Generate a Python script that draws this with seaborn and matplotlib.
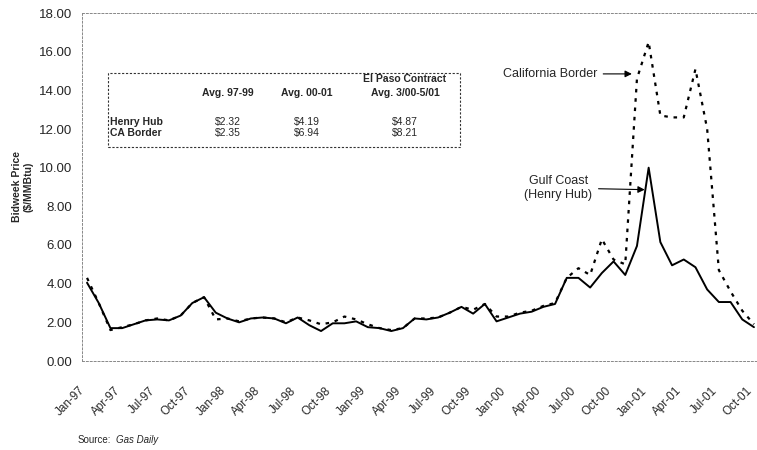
"""Bidweek gas prices: Henry Hub vs California Border, 1997-2001."""

import matplotlib.pyplot as plt
import numpy as np
import pandas as pd
import seaborn as sns
from matplotlib.patches import Rectangle
from matplotlib.transforms import ScaledTranslation

months = pd.date_range("1997-01-01", "2001-10-01", freq="MS")

henry_hub = [
    4.05, 3.0, 1.7, 1.7, 1.9, 2.1, 2.15, 2.1, 2.35, 3.0, 3.3, 2.5,
    2.2, 2.0, 2.2, 2.25, 2.2, 1.95, 2.25, 1.85, 1.55, 1.95, 1.95, 2.05,
    1.75, 1.7, 1.55, 1.7, 2.2, 2.15, 2.25, 2.5, 2.8, 2.45, 2.95, 2.05,
    2.25, 2.45, 2.55, 2.8, 2.95, 4.3, 4.3, 3.8, 4.55, 5.15, 4.45, 5.95,
    10.0, 6.15, 4.95, 5.25, 4.85, 3.7, 3.05, 3.05, 2.15, 1.75,
]
ca_border = [
    4.3, 3.0, 1.6, 1.75, 1.9, 2.1, 2.2, 2.1, 2.35, 3.0, 3.3, 2.15,
    2.2, 2.05, 2.2, 2.25, 2.2, 2.0, 2.25, 2.1, 1.9, 2.0, 2.3, 2.15,
    1.9, 1.7, 1.6, 1.7, 2.2, 2.2, 2.25, 2.5, 2.8, 2.65, 2.95, 2.3,
    2.3, 2.5, 2.6, 2.85, 3.0, 4.3, 4.8, 4.45, 6.3, 5.25, 5.0, 14.6,
    16.5, 12.7, 12.6, 12.6, 15.1, 12.0, 4.7, 3.6, 2.6, 1.9,
]

tick_labels = [d.strftime("%b-%y") for d in months[::3]]

table_cols = ["Avg. 97-99", "Avg. 00-01", "El Paso Contract\nAvg. 3/00-5/01"]
table_rows = ["Henry Hub", "CA Border"]
table_vals = [["$2.32", "$4.19", "$4.87"], ["$2.35", "$6.94", "$8.21"]]

W, H = 757, 450


def fx(px):
    return px / W


def fy(py):
    return 1 - py / H


sns.set_style("white")
plt.rcParams["font.family"] = ["Liberation Sans", "DejaVu Sans"]

df = pd.DataFrame({
    "month": np.arange(len(months)),
    "henry_hub": henry_hub,
    "ca_border": ca_border,
})

fig = plt.figure(figsize=(W / 100, H / 100), dpi=100)
ax = fig.add_axes([fx(82), fy(361), fx(757) - fx(82), fy(13) - fy(361)])

sns.lineplot(data=df, x="month", y="henry_hub", color="black", linewidth=1.4, ax=ax)
sns.lineplot(data=df, x="month", y="ca_border", color="black", linewidth=1.6,
             linestyle=(0, (1.6, 2.6)), ax=ax)

ax.set_xlim(-0.43, 57.26)
ax.set_ylim(0, 18)
ax.set_yticks(np.arange(0, 19, 2))
ax.set_yticklabels([f"{v:.2f}" for v in np.arange(0, 19, 2)], fontsize=9.5)
ax.set_xticks(df["month"][::3])
ax.set_xticklabels(tick_labels, rotation=45, ha="right", rotation_mode="anchor", fontsize=8.5)
ax.tick_params(axis="y", length=3, width=0.6, color="#888888", pad=4)
ax.tick_params(axis="x", length=0, pad=17)
ax.set_xlabel("")
ax.set_ylabel("Bidweek Price\n($/MMBtu)", fontsize=7.5, fontweight="bold", labelpad=4)

for side in ["top", "bottom", "left"]:
    ax.spines[side].set_linestyle((0, (2, 2)))
    ax.spines[side].set_color("#888888")
    ax.spines[side].set_linewidth(0.7)
ax.spines["right"].set_visible(False)

ax.annotate("California Border", xy=(46.8, 14.85), xytext=(43.6, 14.85),
            ha="right", va="center", fontsize=9,
            arrowprops=dict(arrowstyle="-|>", color="black", lw=0.8, mutation_scale=10))
ax.annotate("Gulf Coast\n(Henry Hub)", xy=(47.9, 8.86), xytext=(43.2, 8.95),
            ha="right", va="center", fontsize=9, multialignment="center",
            arrowprops=dict(arrowstyle="-|>", color="black", lw=0.8, mutation_scale=10))

# summary table box
fig.patches.append(Rectangle((fx(108), fy(147)), fx(460) - fx(108), fy(73) - fy(147),
                             transform=fig.transFigure, fill=False, edgecolor="#333333",
                             linewidth=0.8, linestyle=(0, (2, 1.5))))
col_x = [228, 307, 405]
for x, label in zip(col_x, table_cols):
    fig.text(fx(x), fy(98), label, ha="center", va="bottom", fontsize=7.5,
             fontweight="bold", linespacing=1.5)
for r, (row, vals) in enumerate(zip(table_rows, table_vals)):
    y = fy(122 + r * 11)
    fig.text(fx(110), y, row, ha="left", va="center", fontsize=7.5, fontweight="bold")
    for x, v in zip(col_x, vals):
        fig.text(fx(x), y, v, ha="center", va="center", fontsize=7.5)

fig.text(fx(78), fy(440), "Source:", ha="left", va="center", fontsize=7)
fig.text(fx(116), fy(440), "Gas Daily", ha="left", va="center", fontsize=7, style="italic")

# rotated labels sit a little left of their tick, as in the original
fig.canvas.draw()
shift = ScaledTranslation(-8 / 100, 0, fig.dpi_scale_trans)
for lab in ax.get_xticklabels():
    lab.set_transform(lab.get_transform() + shift)

fig.savefig("out.png", dpi=100)
